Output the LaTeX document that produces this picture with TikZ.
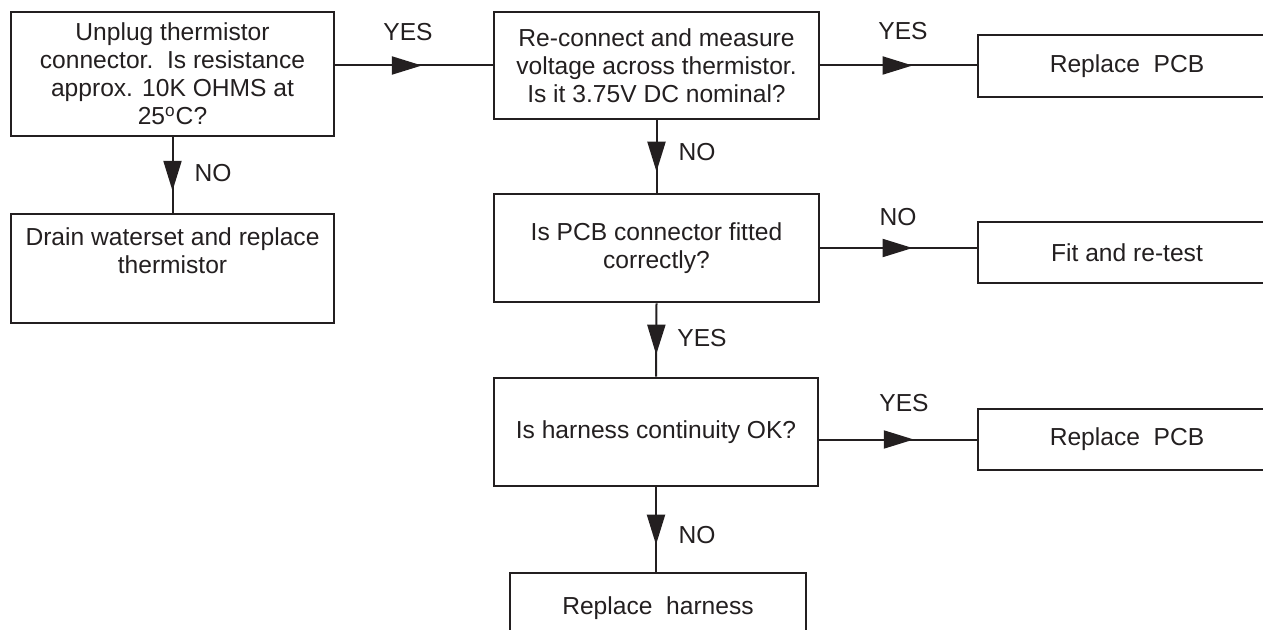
\documentclass[tikz,border=0pt]{standalone}
\usepackage{fontspec}
\setmainfont{Liberation Sans}
\usetikzlibrary{arrows.meta,decorations.markings}
\definecolor{ink}{HTML}{231F20}

\begin{document}
\begin{tikzpicture}[x=0.5pt,y=-0.5pt,color=ink,
  font=\fontsize{12.3}{14}\selectfont,
  box/.style={draw,line width=1.3pt,align=center,inner sep=0pt},
  flow/.style={line width=1pt,postaction={decorate},
    decoration={markings,mark=at position #1 with {\arrow{Triangle[length=15pt,width=9pt]}}}}]
\useasboundingbox (0,0) rectangle (1263,630);
\clip (0,0) rectangle (1263,630);
\node[box,minimum width=161.5pt,minimum height=62pt] (unplug) at (172.5,74)
  {Unplug thermistor\\connector.\ \ Is resistance\\approx. 10K OHMS at\\25\textsuperscript{o}C?};
\node[box,minimum width=161.5pt,minimum height=54.5pt] (drain) at (172.5,268.5)
  {Drain waterset and replace\\thermistor\\ \strut};
\node[box,minimum width=162.5pt,minimum height=53.5pt] (measure) at (656.5,65.5)
  {Re-connect and measure\\voltage across thermistor.\\Is it 3.75V DC nominal?};
\node[box,minimum width=149pt,minimum height=31pt] (pcbA) at (1127,66) {Replace\ \ PCB};
\node[box,minimum width=162.5pt,minimum height=54pt] (fitted) at (656.5,248)
  {Is PCB connector fitted\\correctly?};
\node[box,minimum width=149pt,minimum height=30.5pt] (refit) at (1127,252.5) {Fit and re-test};
\node[box,minimum width=162pt,minimum height=54pt] (harness) at (656,432) {Is harness continuity OK?};
\node[box,minimum width=149pt,minimum height=30.5pt] (pcbB) at (1127,439.5) {Replace\ \ PCB};
\node[box,minimum width=148pt,minimum height=35pt] (newharness) at (658,608) {Replace\ \ harness};
% connectors
\draw[flow=0.55] (measure.west -| unplug.east) -- (measure.west);
\draw[flow=0.59] (measure.east) -- (measure.east -| pcbA.west);
\draw[flow=0.71] (unplug.south) -- (drain.north);
\draw[flow=0.71] (measure.south) -- (fitted.north);
\draw[flow=0.59] (fitted.east) -- (fitted.east -| refit.west);
\draw[flow=0.70] (fitted.south) -- (harness.north);
\draw[flow=0.60] (pcbB.west -| harness.east) -- (pcbB.west);
\draw[flow=0.68] (harness.south) -- (harness.south |- newharness.north);
% labels
\node (yes1) at (408,32)  {YES};
\node (no1)  at (213,173) {NO};
\node (yes2) at (903,31)  {YES};
\node (no2)  at (697,152) {NO};
\node (no3)  at (898,217) {NO};
\node (yes3) at (702,338) {YES};
\node (yes4) at (904,403) {YES};
\node (no4)  at (697,535) {NO};
\end{tikzpicture}
\end{document}
